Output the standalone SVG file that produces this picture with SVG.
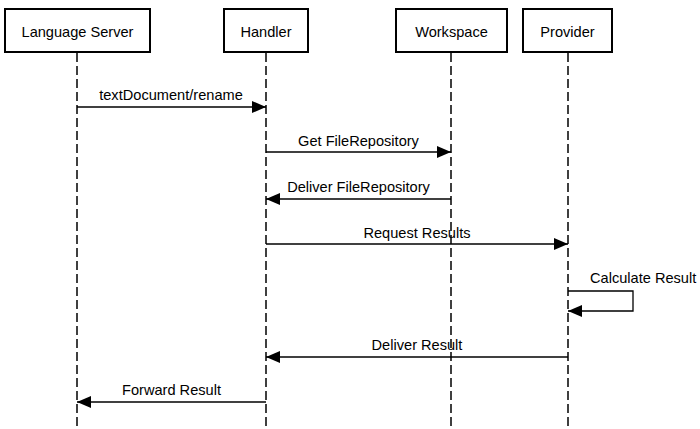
<svg xmlns="http://www.w3.org/2000/svg" width="700" height="429" viewBox="0 0 700 429">
<style>
.box{fill:#fff;stroke:#000;stroke-width:2}
.life{stroke:#000;stroke-width:1.5;stroke-dasharray:9 4;fill:none}
.msg{stroke:#000;stroke-width:1.3;fill:none}
text{font-family:"Liberation Sans",Arial,sans-serif;font-size:14.6px;fill:#000}
.c{text-anchor:middle}
</style>
<defs>
<marker id="ah" markerWidth="14" markerHeight="12" refX="14" refY="6" orient="auto" markerUnits="userSpaceOnUse">
<path d="M0,0 L14,6 L0,12 Z" fill="#000"/>
</marker>
</defs>
<g id="lifelines">
<line class="life" x1="77" y1="53" x2="77" y2="429"/>
<line class="life" x1="266" y1="53" x2="266" y2="429"/>
<line class="life" x1="451" y1="53" x2="451" y2="429"/>
<line class="life" x1="568" y1="53" x2="568" y2="429"/>
</g>
<g id="language-server"><rect class="box" x="5" y="9" width="145" height="43"/><text class="c" x="77.5" y="37">Language Server</text></g>
<g id="handler"><rect class="box" x="224" y="9" width="84" height="43"/><text class="c" x="266" y="37">Handler</text></g>
<g id="workspace"><rect class="box" x="396" y="9" width="111" height="43"/><text class="c" x="451.5" y="37">Workspace</text></g>
<g id="provider"><rect class="box" x="523" y="9" width="89" height="43"/><text class="c" x="567.5" y="37">Provider</text></g>
<g id="connectors">
<line class="msg" x1="77" y1="107" x2="266" y2="107" marker-end="url(#ah)"/>
<text class="c" x="171" y="100">textDocument/rename</text>
<line class="msg" x1="266" y1="152" x2="451" y2="152" marker-end="url(#ah)"/>
<text class="c" x="358.5" y="146">Get FileRepository</text>
<line class="msg" x1="451" y1="199" x2="266" y2="199" marker-end="url(#ah)"/>
<text class="c" x="358.5" y="192">Deliver FileRepository</text>
<line class="msg" x1="266" y1="244" x2="568" y2="244" marker-end="url(#ah)"/>
<text class="c" x="417" y="238">Request Results</text>
<polyline class="msg" points="568,291 633,291 633,311 568,311" marker-end="url(#ah)"/>
<text x="590" y="283">Calculate Result</text>
<line class="msg" x1="568" y1="357" x2="266" y2="357" marker-end="url(#ah)"/>
<text class="c" x="417" y="350">Deliver Result</text>
<line class="msg" x1="266" y1="402" x2="77" y2="402" marker-end="url(#ah)"/>
<text class="c" x="171.5" y="395">Forward Result</text>
</g>
</svg>
